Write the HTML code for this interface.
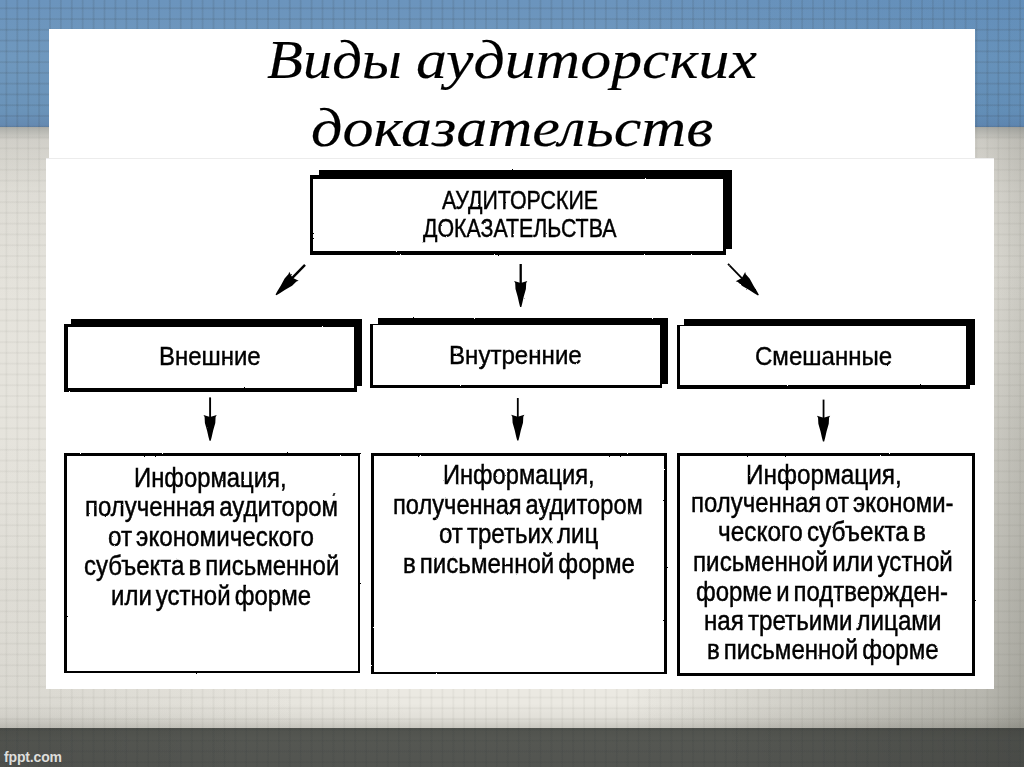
<!DOCTYPE html>
<html><head><meta charset="utf-8"><title>Виды аудиторских доказательств</title>
<style>
html,body{margin:0;padding:0;width:1024px;height:767px;overflow:hidden}
#page{width:1024px;height:767px;overflow:hidden;position:relative;background:#d9d7d0;font-family:"Liberation Sans",sans-serif}
#bg{position:absolute;left:0;top:0;width:1024px;height:767px;
 background:
 linear-gradient(to bottom,rgba(95,100,98,.42) 127px,rgba(100,100,95,.16) 140px,rgba(100,100,95,.06) 190px,rgba(100,100,95,0) 300px),
 linear-gradient(to bottom,rgba(80,80,72,0) 703px,rgba(80,80,72,.06) 717px,rgba(70,70,62,.2) 727.5px),
 radial-gradient(ellipse 420px 330px at 0% 100%,rgba(70,70,60,.09),rgba(70,70,60,0)),
 linear-gradient(to right,rgba(85,85,75,.04) 0,rgba(85,85,75,0) 30%),
 radial-gradient(ellipse 400px 500px at 100% 100%,rgba(60,62,52,.30),rgba(60,62,52,0)),
 linear-gradient(to right,rgba(75,76,66,0) 62%,rgba(75,76,66,.07) 96%,rgba(75,76,66,.2) 100%),
 #ebe9e2}
#blue{position:absolute;left:0;top:0;width:1024px;height:127px;background:linear-gradient(to right,rgba(60,110,170,0) 60%,rgba(60,115,170,.18) 100%),linear-gradient(to bottom,#6b94bd 0%,#6f98be 45%,#6a93b9 88%,#6488b0 100%)}
#dark{position:absolute;left:0;top:727.5px;width:1024px;height:40px;background:linear-gradient(to right,rgba(0,0,0,.06),rgba(0,0,0,0) 25%,rgba(0,0,0,0) 70%,rgba(0,0,0,.12)),linear-gradient(to bottom,#50524d,#555752 30%,#525450)}
#grid{position:absolute;left:-6.2px;top:-3.91px;width:1040px;height:780px;
 background-image:repeating-linear-gradient(to right,rgba(70,70,60,0) 0,rgba(70,70,60,.05) 1.2px,rgba(70,70,60,.05) 1.8px,rgba(70,70,60,0) 3px,rgba(70,70,60,0) 10.9px),
 repeating-linear-gradient(to bottom,rgba(70,70,60,0) 0,rgba(70,70,60,.05) 1.2px,rgba(70,70,60,.05) 1.8px,rgba(70,70,60,0) 3px,rgba(70,70,60,0) 10.77px)}
.gclip{position:absolute;left:0;width:1024px;overflow:hidden}
.g2{position:absolute;left:-6.2px;width:1040px;height:780px;
 background-image:repeating-linear-gradient(to right,rgba(40,50,60,0) 0,rgba(40,50,60,.075) 1.2px,rgba(40,50,60,.075) 1.8px,rgba(40,50,60,0) 3px,rgba(40,50,60,0) 10.9px),
 repeating-linear-gradient(to bottom,rgba(40,50,60,0) 0,rgba(40,50,60,.075) 1.2px,rgba(40,50,60,.075) 1.8px,rgba(40,50,60,0) 3px,rgba(40,50,60,0) 10.77px)}
#tbox{position:absolute;left:49px;top:28.5px;width:925.5px;height:130px;background:#fff}
#dbox{position:absolute;left:46px;top:157.5px;width:948.2px;height:531px;background:#fff;border-top:1px solid #ececec;box-sizing:border-box}
.t{position:absolute;white-space:nowrap;line-height:1;color:#000;transform-origin:0 0}
.ti{font-family:"Liberation Serif",serif;font-style:italic}
.sh{position:absolute;background:#000}
.bx{position:absolute;background:#fff;border:3.5px solid #000}
#fppt{position:absolute;left:4px;top:749.6px;font-size:14px;font-weight:bold;color:#dededb;line-height:1;letter-spacing:-.15px}
svg{position:absolute;left:0;top:0}
#dia{position:absolute;left:0;top:0;width:1024px;height:767px;filter:url(#rough)}
</style></head><body><div id="page">
<div id="bg"></div><div id="blue"></div><div id="dark"></div><div id="grid"></div>
<div class="gclip" style="top:0;height:127px"><div class="g2" style="top:-3.91px"></div></div>
<div class="gclip" style="top:727.5px;height:39.5px"><div class="g2" style="top:-731.41px"></div></div>
<div id="tbox"></div><div id="dbox"></div>
<svg width="0" height="0" style="position:absolute"><defs><filter id="rough" x="0" y="0" width="100%" height="100%" filterUnits="objectBoundingBox"><feTurbulence type="fractalNoise" baseFrequency="0.55" numOctaves="2" seed="7" result="n"/><feDisplacementMap in="SourceGraphic" in2="n" scale="1.6" xChannelSelector="R" yChannelSelector="G"/></filter></defs></svg>
<div id="dia">
<div class="sh" style="left:319px;top:170px;width:413.00px;height:78.75px"></div><div class="bx" style="left:310px;top:175px;width:410.00px;height:71.50px;border-width:4.5px 3.5px 4.6px 3.5px"></div><div class="sh" style="left:70.6px;top:318.5px;width:291.30px;height:67.75px"></div><div class="bx" style="left:64px;top:324.25px;width:285.90px;height:60.35px;border-width:3.5px 3px 4.4px 4px"></div><div class="sh" style="left:377.5px;top:318px;width:290.60px;height:65.75px"></div><div class="bx" style="left:370.3px;top:324.25px;width:286.25px;height:59.25px;border-width:1.5px 2.5px 3px 3.75px"></div><div class="sh" style="left:683.75px;top:318.5px;width:291.25px;height:66.00px"></div><div class="bx" style="left:677px;top:324.5px;width:285.50px;height:59.50px;border-width:1.5px 4px 4px 3.5px"></div><div class="bx" style="left:64px;top:453.4px;width:291.20px;height:215.00px;border-width:3.5px 2.8px 2.8px 3.75px"></div><div class="bx" style="left:370.9px;top:452.5px;width:289.80px;height:216.20px;border-width:3.2px 3.6px 2.8px 3.2px"></div><div class="bx" style="left:677px;top:452.5px;width:291.50px;height:217.00px;border-width:3.6px 3.7px 3.8px 3.2px"></div>
<svg width="1024" height="767" viewBox="0 0 1024 767"><line x1="305" y1="264.8" x2="291.83" y2="278.42" stroke="#000" stroke-width="2.4"/><polygon points="289.17,271.68 288.57,273.88 284.61,278.40 280.84,285.47 277.47,290.97 275.55,294.40 276.41,295.23 279.77,293.19 285.16,289.64 292.09,285.63 296.48,281.53 298.66,280.85 292.52,277.70" fill="#000"/><line x1="520.7" y1="264" x2="520.70" y2="284.10" stroke="#000" stroke-width="2.3"/><polygon points="514.10,281.10 515.20,283.10 515.50,289.10 517.70,296.80 519.10,303.10 520.10,306.90 521.30,306.90 522.30,303.10 523.70,296.80 525.90,289.10 526.20,283.10 527.30,281.10 520.70,283.10" fill="#000"/><line x1="728" y1="263.8" x2="742.53" y2="278.76" stroke="#000" stroke-width="1.8"/><polygon points="735.71,281.21 737.89,281.88 742.29,285.97 749.23,289.96 754.63,293.50 757.99,295.53 758.85,294.70 756.92,291.27 753.54,285.78 749.75,278.72 745.78,274.21 745.18,272.01 741.84,278.04" fill="#000"/><line x1="210.1" y1="397.4" x2="210.10" y2="418.05" stroke="#000" stroke-width="1.9"/><polygon points="203.50,415.05 204.60,417.05 204.90,423.05 207.10,430.75 208.50,437.05 209.50,440.85 210.70,440.85 211.70,437.05 213.10,430.75 215.30,423.05 215.60,417.05 216.70,415.05 210.10,417.05" fill="#000"/><line x1="517.8" y1="398" x2="517.80" y2="417.80" stroke="#000" stroke-width="1.8"/><polygon points="511.20,414.80 512.30,416.80 512.60,422.80 514.80,430.50 516.20,436.80 517.20,440.60 518.40,440.60 519.40,436.80 520.80,430.50 523.00,422.80 523.30,416.80 524.40,414.80 517.80,416.80" fill="#000"/><line x1="823.55" y1="399.6" x2="823.55" y2="418.70" stroke="#000" stroke-width="1.8"/><polygon points="816.95,415.70 818.05,417.70 818.35,423.70 820.55,431.40 821.95,437.70 822.95,441.50 824.15,441.50 825.15,437.70 826.55,431.40 828.75,423.70 829.05,417.70 830.15,415.70 823.55,417.70" fill="#000"/></svg>
<div class="t ss" style="left:441.71px;top:187.85px;font-size:25.5px;transform:scaleX(0.8383);-webkit-text-stroke:0.45px #000">АУДИТОРСКИЕ</div>
<div class="t ss" style="left:422.50px;top:216.00px;font-size:25.5px;transform:scaleX(0.8377);-webkit-text-stroke:0.45px #000">ДОКАЗАТЕЛЬСТВА</div>
<div class="t ss" style="left:159.16px;top:342.75px;font-size:26px;transform:scaleX(0.9209);-webkit-text-stroke:0.4px #000">Внешние</div>
<div class="t ss" style="left:449.40px;top:342.25px;font-size:26px;transform:scaleX(0.9269);-webkit-text-stroke:0.4px #000">Внутренние</div>
<div class="t ss" style="left:754.84px;top:342.75px;font-size:26px;transform:scaleX(0.9247);-webkit-text-stroke:0.4px #000">Смешанные</div>
<div class="t ss" style="left:134.48px;top:465.00px;font-size:27px;transform:scaleX(0.8828);-webkit-text-stroke:0.45px #000">Информация,</div>
<div class="t ss" style="left:84.70px;top:494.35px;font-size:27px;transform:scaleX(0.8873);-webkit-text-stroke:0.45px #000;word-spacing:-3px">полученная аудитором</div>
<div class="t ss" style="left:107.85px;top:523.75px;font-size:27px;transform:scaleX(0.8968);-webkit-text-stroke:0.45px #000;word-spacing:-3px">от экономического</div>
<div class="t ss" style="left:84.11px;top:553.15px;font-size:27px;transform:scaleX(0.8893);-webkit-text-stroke:0.45px #000;word-spacing:-3px">субъекта в письменной</div>
<div class="t ss" style="left:110.94px;top:582.50px;font-size:27px;transform:scaleX(0.8896);-webkit-text-stroke:0.45px #000;word-spacing:-3px">или устной форме</div>
<div class="t ss" style="left:442.84px;top:462.35px;font-size:27px;transform:scaleX(0.8777);-webkit-text-stroke:0.45px #000">Информация,</div>
<div class="t ss" style="left:392.87px;top:491.75px;font-size:27px;transform:scaleX(0.8761);-webkit-text-stroke:0.45px #000;word-spacing:-3px">полученная аудитором</div>
<div class="t ss" style="left:439.11px;top:520.85px;font-size:27px;transform:scaleX(0.8914);-webkit-text-stroke:0.45px #000;word-spacing:-3px">от третьих лиц</div>
<div class="t ss" style="left:402.69px;top:550.85px;font-size:27px;transform:scaleX(0.8921);-webkit-text-stroke:0.45px #000;word-spacing:-3px">в письменной форме</div>
<div class="t ss" style="left:745.95px;top:461.50px;font-size:27px;transform:scaleX(0.9006);-webkit-text-stroke:0.45px #000">Информация,</div>
<div class="t ss" style="left:690.70px;top:490.25px;font-size:27px;transform:scaleX(0.8867);-webkit-text-stroke:0.45px #000;word-spacing:-3px">полученная от экономи-</div>
<div class="t ss" style="left:718.05px;top:519.35px;font-size:27px;transform:scaleX(0.9027);-webkit-text-stroke:0.45px #000;word-spacing:-3px">ческого субъекта в</div>
<div class="t ss" style="left:693.43px;top:549.15px;font-size:27px;transform:scaleX(0.8969);-webkit-text-stroke:0.45px #000;word-spacing:-3px">письменной или устной</div>
<div class="t ss" style="left:696.36px;top:579.00px;font-size:27px;transform:scaleX(0.8874);-webkit-text-stroke:0.45px #000;word-spacing:-3px">форме и подтвержден-</div>
<div class="t ss" style="left:704.03px;top:608.00px;font-size:27px;transform:scaleX(0.8955);-webkit-text-stroke:0.45px #000;word-spacing:-3px">ная третьими лицами</div>
<div class="t ss" style="left:707.19px;top:637.35px;font-size:27px;transform:scaleX(0.8912);-webkit-text-stroke:0.45px #000;word-spacing:-3px">в письменной форме</div>
</div>
<div class="t ti" style="left:266.97px;top:32.00px;font-size:55px;transform:scaleX(1.0687);-webkit-text-stroke:0.15px #000">Виды</div>
<div class="t ti" style="left:415.56px;top:32.00px;font-size:55px;transform:scaleX(1.1245);-webkit-text-stroke:0.15px #000">аудиторских</div>
<div class="t ti" style="left:310.80px;top:100.25px;font-size:55px;transform:scaleX(1.1301);-webkit-text-stroke:0.15px #000">доказательств</div>
<div style="position:absolute;left:333px;top:492.5px;width:1.6px;height:2.6px;background:#333;transform:skewX(-20deg)"></div>
<div id="fppt">fppt.com</div>
</div></body></html>
